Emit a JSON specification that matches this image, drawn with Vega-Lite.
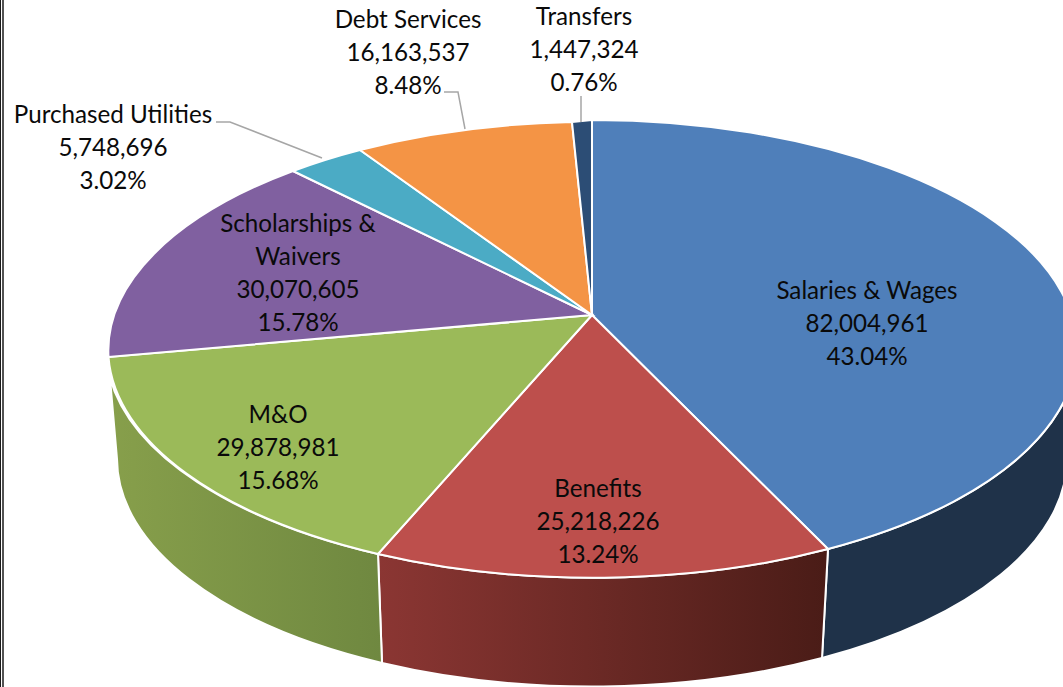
{"$schema":"https://vega.github.io/schema/vega-lite/v6.json","width":1063,"height":687,"padding":0,"autosize":{"type":"none"},"background":"white","config":{"view":{"stroke":null}},
"data":{"values":[
{"category":"Salaries & Wages","amount":82004961,"share":43.04,"label":"Salaries & Wages\n82,004,961\n43.04%"},
{"category":"Benefits","amount":25218226,"share":13.24,"label":"Benefits\n25,218,226\n13.24%"},
{"category":"M&O","amount":29878981,"share":15.68,"label":"M&O\n29,878,981\n15.68%"},
{"category":"Scholarships & Waivers","amount":30070605,"share":15.78,"label":"Scholarships &\nWaivers\n30,070,605\n15.78%"},
{"category":"Purchased Utilities","amount":5748696,"share":3.02,"label":"Purchased Utilities\n5,748,696\n3.02%"},
{"category":"Debt Services","amount":16163537,"share":8.48,"label":"Debt Services\n16,163,537\n8.48%"},
{"category":"Transfers","amount":1447324,"share":0.76,"label":"Transfers\n1,447,324\n0.76%"}
]},
"layer":[
{"transform":[{"filter":"datum.category==='Salaries & Wages'"}],
"mark":{"type":"point","filled":true,"opacity":1,"stroke":"white","strokeWidth":2,"size":4,"fill":"#1f3249"},
"encoding":{"shape":{"field":"category","type":"nominal","legend":null,"scale":{"domain":["Salaries & Wages"],"range":["M296.5,205.5 A485,229 0 0 0 545.5,5.5 L535.5,115.5 A475,228 0 0 1 290.5,314.5 Z"]}}}},
{"transform":[{"filter":"datum.category==='Benefits'"}],
"mark":{"type":"point","filled":true,"opacity":1,"stroke":"white","strokeWidth":2,"size":4,"fill":{"gradient":"linear","x1":0,"y1":0,"x2":1,"y2":0,"stops":[{"offset":0,"color":"#8b3633"},{"offset":1,"color":"#4a1c17"}]}},
"encoding":{"shape":{"field":"category","type":"nominal","legend":null,"scale":{"domain":["Benefits"],"range":["M296.5,205.5 A485,229 0 0 1 -153.5,210.5 L-149.5,319.5 A475,228 0 0 0 290.5,314.5 Z"]}}}},
{"transform":[{"filter":"datum.category==='M&O'"}],
"mark":{"type":"point","filled":true,"opacity":1,"stroke":"white","strokeWidth":2,"size":4,"fill":{"gradient":"linear","x1":0,"y1":0,"x2":1,"y2":0,"stops":[{"offset":0,"color":"#879f4b"},{"offset":1,"color":"#6f8840"}]}},
"encoding":{"shape":{"field":"category","type":"nominal","legend":null,"scale":{"domain":["M&O"],"range":["M-153.5,210.5 A485,229 0 0 1 -421.5,34.5 L-414.5,115.5 A475,228 0 0 0 -149.5,319.5 Z"]}}}},
{"mark":{"type":"point","filled":true,"opacity":1,"stroke":"white","strokeWidth":2,"size":4},
"encoding":{"shape":{"field":"category","type":"nominal","legend":null,"scale":{"domain":["Salaries & Wages","Benefits","M&O","Scholarships & Waivers","Purchased Utilities","Debt Services","Transfers"],"range":["M60.5,-28.5 L60.5,-223.5 A485,229 0 0 1 296.5,205.5 Z","M60.5,-28.5 L296.5,205.5 A485,229 0 0 1 -153.5,210.5 Z","M60.5,-28.5 L-153.5,210.5 A485,229 0 0 1 -423,13.5 Z","M60.5,-28.5 L-423,13.5 A485,229 0 0 1 -238.5,-172.5 Z","M60.5,-28.5 L-238.5,-172.5 A485,229 0 0 1 -171.5,-193.5 Z","M60.5,-28.5 L-171.5,-193.5 A485,229 0 0 1 40.5,-221.5 Z","M60.5,-28.5 L40.5,-221.5 A485,229 0 0 1 60.5,-223.5 Z"]}},
"fill":{"field":"category","type":"nominal","legend":null,"scale":{"domain":["Salaries & Wages","Benefits","M&O","Scholarships & Waivers","Purchased Utilities","Debt Services","Transfers"],"range":["#4f7fba","#bd4f4c","#9bba59","#8060a0","#4babc5","#f49445","#2c4d75"]}}}},
{"transform":[{"filter":"datum.category==='Purchased Utilities'||datum.category==='Debt Services'||datum.category==='Transfers'"}],
"mark":{"type":"point","filled":false,"opacity":1,"stroke":"#a6a6a6","strokeWidth":1.5,"size":4},
"encoding":{"shape":{"field":"category","type":"nominal","legend":null,"scale":{"domain":["Purchased Utilities","Debt Services","Transfers"],"range":["M-315.5,-221.5 L-301.5,-221.5 L-209.5,-185.5","M-87.5,-251.5 L-73.5,-251.5 L-66.5,-214.5","M49.5,-247.5 L49.5,-221.5"]}}}},
{"data":{"values":[{"edge":"outer"}]},"mark":{"type":"rule","color":"#1a1a1a","strokeWidth":1.5},"encoding":{"x":{"value":3}}},
{"data":{"values":[{"edge":"inner"}]},"mark":{"type":"rule","color":"#1a1a1a","strokeWidth":1},"encoding":{"x":{"value":0.5}}},
{"transform":[{"filter":"datum.category==='Salaries & Wages'"}],"mark":{"type":"text","font":"Lato","fontSize":24.2,"lineHeight":33,"lineBreak":"\n","color":"#0a0a0a","dx":335.5,"dy":-52},"encoding":{"text":{"field":"label"}}},
{"transform":[{"filter":"datum.category==='Benefits'"}],"mark":{"type":"text","font":"Lato","fontSize":24.2,"lineHeight":33,"lineBreak":"\n","color":"#0a0a0a","dx":66.5,"dy":146},"encoding":{"text":{"field":"label"}}},
{"transform":[{"filter":"datum.category==='M&O'"}],"mark":{"type":"text","font":"Lato","fontSize":24.2,"lineHeight":33,"lineBreak":"\n","color":"#0a0a0a","dx":-253.5,"dy":72},"encoding":{"text":{"field":"label"}}},
{"transform":[{"filter":"datum.category==='Scholarships & Waivers'"}],"mark":{"type":"text","font":"Lato","fontSize":24.2,"lineHeight":33,"lineBreak":"\n","color":"#0a0a0a","dx":-233.5,"dy":-118.5},"encoding":{"text":{"field":"label"}}},
{"transform":[{"filter":"datum.category==='Purchased Utilities'"}],"mark":{"type":"text","font":"Lato","fontSize":24.2,"lineHeight":33,"lineBreak":"\n","color":"#0a0a0a","dx":-418.5,"dy":-227.5},"encoding":{"text":{"field":"label"}}},
{"transform":[{"filter":"datum.category==='Debt Services'"}],"mark":{"type":"text","font":"Lato","fontSize":24.2,"lineHeight":33,"lineBreak":"\n","color":"#0a0a0a","dx":-123.5,"dy":-323},"encoding":{"text":{"field":"label"}}},
{"transform":[{"filter":"datum.category==='Transfers'"}],"mark":{"type":"text","font":"Lato","fontSize":24.2,"lineHeight":33,"lineBreak":"\n","color":"#0a0a0a","dx":52.5,"dy":-326},"encoding":{"text":{"field":"label"}}}
],
"resolve":{"scale":{"shape":"independent","fill":"independent"}}}
